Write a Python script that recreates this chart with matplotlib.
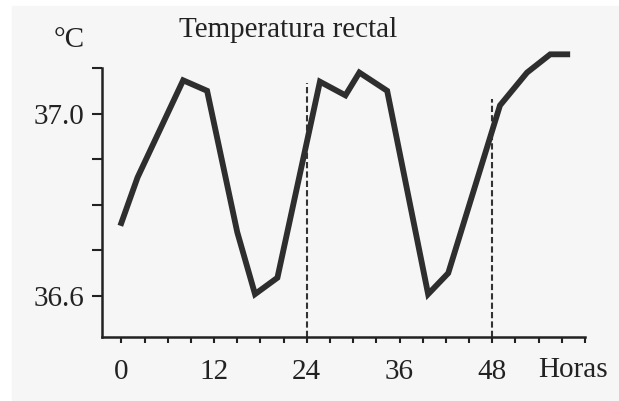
import matplotlib.pyplot as plt
from matplotlib.patches import Rectangle

# temperature curve
horas = [0, 2.1, 8.0, 11.1, 15.0, 17.3, 20.2, 25.7, 29.0, 30.8, 34.4, 39.7, 42.3, 49.0, 52.5, 55.5, 57.7]
temp = [36.76, 36.86, 37.073, 37.05, 36.74, 36.604, 36.64, 37.07, 37.04, 37.09, 37.05, 36.604, 36.65, 37.018, 37.09, 37.13, 37.13]

# dashed day markers
dias = [24, 48]
dias_top = [37.068, 37.033]

xticks = [0, 12, 24, 36, 48]
yticks = [36.6, 37.0]

plt.rcParams['font.family'] = ['Liberation Serif', 'DejaVu Serif']

fig = plt.figure(figsize=(6.19, 4.01), dpi=100)
fig.patch.set_facecolor('white')
fig.patches.append(Rectangle((12 / 619, 0), 1, 1 - 6 / 401, transform=fig.transFigure,
                             color='#f6f6f6', zorder=-10))
ax = fig.add_axes([102 / 619, 64 / 401, 483 / 619, 269 / 401])
ax.set_facecolor('none')

ax.plot(horas, temp, color='#2e2e2e', lw=4.2, solid_joinstyle='miter', clip_on=False, zorder=3)
for d, top in zip(dias, dias_top):
    ax.plot([d, d], [36.51, top], color='#333333', lw=1.5, ls=(0, (3, 1.5)), zorder=2)

ax.set_xlim(-2.5, 60)
ax.set_ylim(36.51, 37.1)

for s in ['top', 'right']:
    ax.spines[s].set_visible(False)
for s in ['left', 'bottom']:
    ax.spines[s].set_linewidth(1.8)
    ax.spines[s].set_color('#222222')

ax.set_xticks(xticks)
ax.set_xticks(range(0, 61, 3), minor=True)
ax.set_yticks(yticks)
ax.set_yticklabels(['36.6', '37.0'])
ax.set_yticks([36.7, 36.8, 36.9, 37.1], minor=True)

ax.tick_params(axis='x', which='both', direction='out', length=4, width=1.5,
               colors='#222222', labelsize=21, pad=12)
ax.tick_params(axis='y', which='both', direction='out', length=7, width=1.5,
               colors='#222222', labelsize=21, pad=6)

fig.text(538 / 619, 1 - 370 / 401, 'Horas', fontsize=21, va='center', ha='left', color='#222222')
fig.text(69 / 619, 1 - 40 / 401, '°C', fontsize=21, va='center', ha='center', color='#222222')
fig.text(288 / 619, 1 - 30 / 401, 'Temperatura rectal', fontsize=21, va='center', ha='center',
         color='#222222')

fig.savefig('out.png', dpi=100)
